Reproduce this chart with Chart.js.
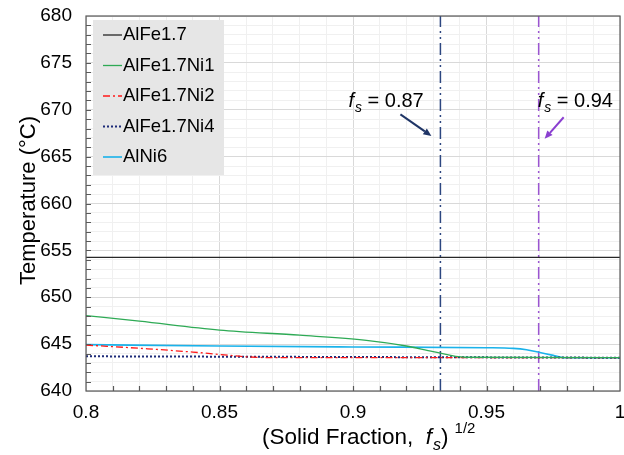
<!DOCTYPE html>
<html>
<head>
<meta charset="utf-8">
<script src="https://cdn.jsdelivr.net/npm/chart.js@4/dist/chart.umd.min.js"></script>
<style>
  html, body { margin: 0; padding: 0; background: #fff; }
  #wrap { width: 624px; height: 455px; }
</style>
</head>
<body>
<div id="wrap"><canvas id="c" width="624" height="455"></canvas></div>
<script>
// square root of solid fraction vs. temperature, one array pair per alloy
const seriesNames = ['AlFe1.7', 'AlFe1.7Ni1', 'AlFe1.7Ni2', 'AlFe1.7Ni4', 'AlNi6'];

const alFe17X = [0.8, 1.0];
const alFe17T = [654.25, 654.25];

const alFe17Ni1X = [0.8, 0.82, 0.85, 0.88, 0.905, 0.92, 0.93, 0.942, 1.0];
const alFe17Ni1T = [648.05, 647.45, 646.5, 645.95, 645.4, 644.8, 644.2, 643.6, 643.55];

const alFe17Ni2X = [0.8, 0.823, 0.84, 0.85, 0.86, 0.872, 1.0];
const alFe17Ni2T = [644.9, 644.5, 644.15, 643.9, 643.65, 643.55, 643.55];

const alFe17Ni4X = [0.8, 1.0];
const alFe17Ni4T = [643.7, 643.55];

const alNi6X = [0.8, 0.85, 0.9, 0.95, 0.96, 0.965, 0.97, 0.975, 0.979, 1.0];
const alNi6T = [644.95, 644.8, 644.7, 644.62, 644.55, 644.4, 644.1, 643.8, 643.55, 643.55];

// solid fractions marked with vertical lines
const markerFs = [0.87, 0.94];

const xTicks = [0.8, 0.85, 0.9, 0.95, 1];
const yTicks = [640, 645, 650, 655, 660, 665, 670, 675, 680];

const FONT = '"Liberation Sans", Arial, sans-serif';

function pts(xs, ys) {
  return xs.map((x, i) => ({ x: x, y: ys[i] }));
}

const lineStyles = [
  { color: '#262626', width: 1.3, dash: [] },
  { color: '#2eaa55', width: 1.3, dash: [] },
  { color: '#ff1a1a', width: 1.3, dash: [7, 3, 2, 3] },
  { color: '#1c2a78', width: 2, dash: [2, 2] },
  { color: '#1ab2ea', width: 1.6, dash: [] }
];
const markerStyles = [
  { color: '#2c4680', dash: [12, 4, 2, 4, 2, 4] },
  { color: '#9b55d2', dash: [12, 4, 2, 4, 2, 4] }
];

const seriesData = [
  pts(alFe17X, alFe17T),
  pts(alFe17Ni1X, alFe17Ni1T),
  pts(alFe17Ni2X, alFe17Ni2T),
  pts(alFe17Ni4X, alFe17Ni4T),
  pts(alNi6X, alNi6T)
];

const datasets = seriesNames.map((name, i) => ({
  label: name,
  data: seriesData[i],
  borderColor: lineStyles[i].color,
  borderWidth: lineStyles[i].width,
  borderDash: lineStyles[i].dash,
  pointRadius: 0,
  cubicInterpolationMode: 'monotone',
  fill: false
}));

markerFs.forEach((fs, i) => {
  datasets.push({
    label: 'fs = ' + fs,
    data: [{ x: Math.sqrt(fs), y: yTicks[0] }, { x: Math.sqrt(fs), y: yTicks[yTicks.length - 1] }],
    borderColor: markerStyles[i].color,
    borderWidth: 1.5,
    borderDash: markerStyles[i].dash,
    pointRadius: 0,
    fill: false
  });
});

function isMajor(v, step) {
  const n = Math.round(v / step * 1000) / 1000;
  return Math.abs(n - Math.round(n)) < 1e-6;
}

// text with italic f and subscript s, returns end x
function drawFs(ctx, x, y, size, color) {
  ctx.fillStyle = color;
  ctx.textBaseline = 'middle';
  ctx.textAlign = 'left';
  ctx.font = 'italic ' + size + 'px ' + FONT;
  ctx.fillText('f', x, y);
  x += ctx.measureText('f').width + 1;
  const sub = Math.round(size * 0.7);
  ctx.font = 'italic ' + sub + 'px ' + FONT;
  ctx.fillText('s', x, y + size * 0.32);
  x += ctx.measureText('s').width;
  return x;
}

function drawArrow(ctx, x1, y1, x2, y2, color) {
  ctx.save();
  ctx.strokeStyle = color;
  ctx.fillStyle = color;
  ctx.lineWidth = 2;
  ctx.setLineDash([]);
  const a = Math.atan2(y2 - y1, x2 - x1);
  const hl = 8, hw = 3.5;
  const bx = x2 - hl * Math.cos(a), by = y2 - hl * Math.sin(a);
  ctx.beginPath();
  ctx.moveTo(x1, y1);
  ctx.lineTo(bx, by);
  ctx.stroke();
  ctx.beginPath();
  ctx.moveTo(x2, y2);
  ctx.lineTo(bx + hw * Math.sin(a), by - hw * Math.cos(a));
  ctx.lineTo(bx - hw * Math.sin(a), by + hw * Math.cos(a));
  ctx.closePath();
  ctx.fill();
  ctx.restore();
}

const decorPlugin = {
  id: 'decor',
  afterDraw(chart) {
    const ctx = chart.ctx;
    const area = chart.chartArea;
    const xs = chart.scales.x, ys = chart.scales.y;
    ctx.save();

    // frame
    ctx.strokeStyle = '#595959';
    ctx.lineWidth = 1.2;
    ctx.setLineDash([]);
    ctx.strokeRect(area.left, area.top, area.right - area.left, area.bottom - area.top);

    // inward minor ticks
    ctx.beginPath();
    for (let i = 1; i < 20; i++) {
      const px = Math.round(xs.getPixelForValue(0.8 + i * 0.01)) + 0.5;
      ctx.moveTo(px, area.bottom);
      ctx.lineTo(px, area.bottom - 5);
    }
    for (let v = 641; v < 680; v++) {
      const py = Math.round(ys.getPixelForValue(v)) + 0.5;
      ctx.moveTo(area.left, py);
      ctx.lineTo(area.left + 5, py);
    }
    ctx.stroke();

    // legend
    const lx = area.left + 7, ly = area.top + 4;
    ctx.fillStyle = '#e6e6e6';
    ctx.fillRect(lx, ly, 131, 155);
    ctx.font = '18.5px ' + FONT;
    ctx.textBaseline = 'middle';
    ctx.textAlign = 'left';
    seriesNames.forEach((name, i) => {
      const cy = ly + 15 + i * 30.5;
      ctx.strokeStyle = lineStyles[i].color;
      ctx.lineWidth = lineStyles[i].width;
      ctx.setLineDash(lineStyles[i].dash);
      ctx.beginPath();
      ctx.moveTo(lx + 10, cy);
      ctx.lineTo(lx + 29, cy);
      ctx.stroke();
      ctx.fillStyle = '#000';
      ctx.fillText(name, lx + 30, cy);
    });
    ctx.setLineDash([]);

    // solid fraction callouts
    const yTxt = ys.getPixelForValue(670.9);
    const m1 = xs.getPixelForValue(Math.sqrt(markerFs[0]));
    const m2 = xs.getPixelForValue(Math.sqrt(markerFs[1]));
    let tx = drawFs(ctx, m1 - 92, yTxt, 20, '#000');
    ctx.font = '20px ' + FONT;
    ctx.fillText(' = ' + markerFs[0], tx, yTxt);
    tx = drawFs(ctx, m2 - 1, yTxt, 20, '#000');
    ctx.font = '20px ' + FONT;
    ctx.fillText(' = ' + markerFs[1], tx, yTxt);
    drawArrow(ctx, m1 - 40, ys.getPixelForValue(669.5), m1 - 9, ys.getPixelForValue(667.2), '#1f3566');
    drawArrow(ctx, m2 + 25, ys.getPixelForValue(669.2), m2 + 6, ys.getPixelForValue(666.9), '#8a3fd0');

    // axis titles
    ctx.fillStyle = '#000';
    ctx.save();
    ctx.translate(29, (area.top + area.bottom) / 2 - 3);
    ctx.rotate(-Math.PI / 2);
    ctx.textAlign = 'center';
    ctx.font = '22px ' + FONT;
    ctx.fillText('Temperature (\u00b0C)', 0, 0);
    ctx.restore();

    const tY = 438;
    ctx.font = '22.5px ' + FONT;
    const p1 = '(Solid Fraction,  ';
    let x = 262;
    ctx.textAlign = 'left';
    ctx.fillText(p1, x, tY);
    x += ctx.measureText(p1).width;
    x = drawFs(ctx, x, tY, 22.5, '#000');
    ctx.font = '22.5px ' + FONT;
    ctx.fillText(')', x, tY);
    x += ctx.measureText(')').width + 6;
    ctx.font = '15px ' + FONT;
    ctx.fillText('1/2', x, tY - 9);

    ctx.restore();
  }
};

new Chart(document.getElementById('c'), {
  type: 'line',
  data: { datasets: datasets },
  options: {
    responsive: false,
    animation: false,
    layout: { padding: { top: 16, right: 4, left: 0, bottom: 0 } },
    plugins: { legend: { display: false }, tooltip: { enabled: false } },
    scales: {
      x: {
        type: 'linear',
        min: 0.8,
        max: 1,
        afterFit(s) { s.height = 64; s.paddingLeft = 0; s.paddingRight = 0; },
        border: { display: false },
        grid: {
          drawTicks: false,
          color: ctx => isMajor(ctx.tick.value, 0.05) ? '#d9d9d9' : '#f0f0f0',
          lineWidth: 1
        },
        ticks: {
          stepSize: 0.01,
          autoSkip: false,
          maxRotation: 0,
          padding: 10,
          color: '#000',
          font: { family: FONT, size: 19 },
          callback: v => {
            const r = Math.round(v * 100) / 100;
            return xTicks.some(t => Math.abs(t - r) < 1e-9) ? String(r) : '';
          }
        }
      },
      y: {
        min: 640,
        max: 680,
        afterFit(s) { s.width = 86; s.paddingTop = 0; s.paddingBottom = 0; },
        border: { display: false },
        grid: {
          drawTicks: false,
          color: ctx => isMajor(ctx.tick.value, 5) ? '#d9d9d9' : '#f0f0f0',
          lineWidth: 1
        },
        ticks: {
          stepSize: 1,
          autoSkip: false,
          padding: 14,
          color: '#000',
          font: { family: FONT, size: 19 },
          callback: v => yTicks.includes(v) ? String(v) : ''
        }
      }
    }
  },
  plugins: [decorPlugin]
});
</script>
</body>
</html>
